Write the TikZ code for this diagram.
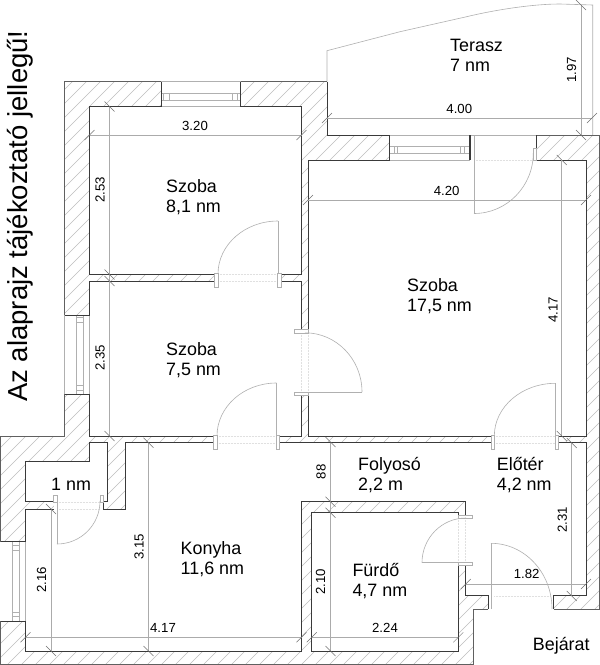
\documentclass[tikz,border=0pt]{standalone}
\usepackage{fontspec}
\setmainfont{Liberation Sans}
\usetikzlibrary{calc}
\definecolor{wallc}{HTML}{3A3A3A}
\definecolor{outc}{HTML}{606060}
\definecolor{hatchc}{HTML}{BEBEBE}
\definecolor{dimc}{HTML}{ABABAB}
\definecolor{thinc}{HTML}{B0B0B0}
\definecolor{tickc}{HTML}{707070}
\tikzset{
  wall/.style={draw=wallc,line width=0.95pt,line join=miter},
  outer/.style={draw=outc,line width=0.75pt},
  hatchline/.style={draw=hatchc,line width=0.45pt},
  dimline/.style={draw=dimc,line width=0.55pt},
  ticka/.style={draw=tickc,line width=0.5pt},
  doorline/.style={draw=thinc,line width=0.6pt},
  winline/.style={draw=thinc,line width=0.6pt},
  stub/.style={draw=thinc,line width=0.6pt,fill=white},
  dotline/.style={draw=black!12,line width=0.5pt,densely dotted},
  room/.style={fill=white,draw=none},
  lab/.style={anchor=base west,inner sep=0pt,align=left,font=\fontsize{17.9}{20}\selectfont},
  dimlab/.style={inner sep=0pt,font=\fontsize{13.2}{14}\selectfont},
}
\newcommand{\doorarc}[3]{\draw[doorline] (#1) .. controls ($(#1)!0.552!(#2)$) and ($(#3)!0.552!(#2)$) .. (#3);}
\newcommand{\tickup}[2]{\draw[ticka] (#1-5,#2+5) -- (#1+5,#2-5);}
\newcommand{\tickdn}[2]{\draw[ticka] (#1-5,#2-5) -- (#1+5,#2+5);}
\begin{document}
\begin{tikzpicture}[x=1pt,y=-1pt]
\useasboundingbox (0,0) rectangle (600,665);
\fill[white] (0,0) rectangle (600,665);

% hatching of the walls
\begin{scope}
\clip (64.5,81.5) -- (327,81.5) -- (327,135) -- (599,135) -- (599,609) -- (473,609) -- (473,664.5) -- (0.5,664.5) -- (0.5,436.5) -- (64.5,436.5) -- cycle;
\foreach \k in {0,14,...,1300} {\draw[hatchline] (\k,0) -- (\k-700,700);}
\end{scope}

% rooms
\fill[room] (89.5,106.5) rectangle (301.5,274);
\fill[room] (89.5,281) rectangle (301.5,436);
\fill[room] (308,160) rectangle (586,436);
\fill[room] (25.5,461.7) -- (89.5,461.7) -- (89.5,442.7) -- (107,442.7) -- (107,501.7) -- (25.5,501.7) -- cycle;
\fill[room] (125,442.7) -- (586,442.7) -- (586,595.7) -- (553.6,595.7) -- (553.6,609) -- (488.3,609) -- (488.3,595.7) -- (465.7,595.7) -- (465.7,501.7) -- (301.5,501.7) -- (301.5,651) -- (25.5,651) -- (25.5,509) -- (125,509) -- cycle;
\fill[room] (311.7,512.7) rectangle (458.3,651);
% openings
\fill[room] (214.5,273) rectangle (281,282);
\fill[room] (213,435) rectangle (279,444);
\fill[room] (491,435) rectangle (558,444);
\fill[room] (300.5,333) rectangle (309,392);
\fill[room] (54,500.7) rectangle (103,510);
\fill[room] (457.3,518) rectangle (466.7,562);
\fill[room] (161,81) rectangle (240.5,107);
\fill[room] (389,134.5) rectangle (536.7,161);
\fill[room] (64,315) rectangle (90,394);
\fill[room] (0,541.7) rectangle (26,621);
\fill[room] (488.3,595) rectangle (553.6,610);

% terrace
\draw[doorline] (327,81.5) -- (327,50.7) -- (400,31.7) -- (466.7,16.7) .. controls (490,11) and (530,4) .. (560,4) -- (592.7,5) -- (592.7,135);

% windows
\draw[winline] (161,81.5) -- (240.5,81.5) (161,93) -- (240.5,93) (161,100.7) -- (240.5,100.7) (161,106.5) -- (240.5,106.5)
  (163,93) -- (163,100.7) (169,93) -- (169,100.7) (232.7,93) -- (232.7,100.7) (237,93) -- (237,100.7);
\draw[winline] (389,135) -- (536.7,135) (389,146.5) -- (470,146.5) (389,153.5) -- (470,153.5) (389,160) -- (470,160)
  (394,146.5) -- (394,153.5) (397,146.5) -- (397,153.5) (460,146.5) -- (460,153.5) (464,146.5) -- (464,153.5);
\draw[winline] (64.5,315) -- (64.5,394) (76,315) -- (76,394) (83.3,315) -- (83.3,394) (89.5,315) -- (89.5,394)
  (76,317) -- (83.3,317) (76,322) -- (83.3,322) (76,385) -- (83.3,385) (76,390) -- (83.3,390);
\draw[winline] (12,541.7) -- (12,621) (19,541.7) -- (19,621) (25.5,541.7) -- (25.5,621)
  (12,545) -- (19,545) (12,550) -- (19,550) (12,612) -- (19,612) (12,616) -- (19,616);
\draw[wall,line width=1.5pt] (470,135) -- (470,160);

% dotted lines across the door openings
\draw[dotline] (218,274) -- (278,274) (218,281) -- (278,281)
  (217,436) -- (277,436) (217,443) -- (277,443)
  (494,436) -- (555,436) (494,443) -- (555,443)
  (301.5,333) -- (301.5,392) (308,333) -- (308,392)
  (57,502) -- (100,502) (57,509) -- (100,509)
  (458.3,518) -- (458.3,562) (465.7,518) -- (465.7,562)
  (494,596) -- (551,596) (474,160) -- (533,160);

% outer outline
\draw[outer] (161,81.5) -- (64.5,81.5) -- (64.5,315) (240.5,81.5) -- (327,81.5);
\draw[outer] (64.5,394) -- (64.5,436.5) -- (0.5,436.5) -- (0.5,541.7);
\draw[outer] (0.5,621) -- (0.5,664.5) -- (473,664.5) -- (473,609) -- (488.3,609);
\draw[outer] (553.6,609) -- (599,609) -- (599,135) -- (536.7,135);

% inner walls
\draw[wall] (214.5,274) -- (89.5,274) -- (89.5,106.5) -- (161,106.5) -- (161,81.5);
\draw[wall] (240.5,81.5) -- (240.5,106.5) -- (301.5,106.5) -- (301.5,274) -- (281,274) -- (281,281) -- (301.5,281) -- (301.5,330);
\draw[wall] (214.5,274) -- (214.5,281) -- (89.5,281) -- (89.5,315) -- (64.5,315);
\draw[wall] (64.5,394) -- (89.5,394) -- (89.5,436) -- (213,436) -- (213,442.7) -- (125,442.7) -- (125,509) -- (103,509) -- (103,501.7) -- (107,501.7) -- (107,442.7) -- (89.5,442.7) -- (89.5,461.7) -- (25.5,461.7) -- (25.5,501.7) -- (54,501.7);
\draw[wall] (54,509) -- (25.5,509) -- (25.5,541.7) -- (0.5,541.7);
\draw[wall] (0.5,621) -- (25.5,621) -- (25.5,651) -- (301.5,651) -- (301.5,501.7) -- (465.7,501.7) -- (465.7,516);
\draw[wall] (458.3,516) -- (458.3,512.7) -- (311.7,512.7) -- (311.7,651) -- (458.3,651) -- (458.3,565) -- (465.7,565) -- (465.7,595.7) -- (488.3,595.7) -- (488.3,609);
\draw[wall] (301.5,396) -- (301.5,436) -- (279,436) -- (279,442.7) -- (491,442.7) -- (491,436) -- (308,436) -- (308,396);
\draw[wall] (308,330) -- (308,160) -- (389,160) -- (389,135) -- (327,135) -- (327,81.5);
\draw[wall] (536.7,135) -- (536.7,160) -- (586,160) -- (586,436) -- (558,436) -- (558,442.7) -- (586,442.7) -- (586,595.7) -- (553.6,595.7) -- (553.6,609);

% door frames
\draw[stub] (214.5,273) rectangle (218.3,287);
\draw[stub] (277.3,273) rectangle (281,287);
\draw[stub] (213.3,435.5) rectangle (217,449);
\draw[stub] (276,435.5) rectangle (279.3,449);
\draw[stub] (491,435.5) rectangle (494.5,449.5);
\draw[stub] (555,435.5) rectangle (558,449.5);
\draw[stub] (294.5,329.5) rectangle (308.5,332.8);
\draw[stub] (294.5,392) rectangle (308.5,395.5);
\draw[stub] (53.5,495) rectangle (57,502.7);
\draw[stub] (100,495) rectangle (103.3,502.7);
\draw[stub] (458.3,515) rectangle (472.7,518);
\draw[stub] (458.3,562) rectangle (472.7,565);
\draw[stub] (533.3,148) rectangle (536.7,160);

% door leaves
\draw[doorline] (278,274) -- (278,221);
\doorarc{278,221}{218,221}{218,274}
\draw[doorline] (276.5,436) -- (276.5,383);
\doorarc{276.5,383}{217,383}{217,436}
\draw[doorline] (555.5,436) -- (555.5,383.3);
\doorarc{555.5,383.3}{494.3,383.3}{494.3,436}
\draw[doorline] (294.5,392) -- (362,392);
\doorarc{362,392}{362,332.8}{305,332.8}
\draw[doorline] (57,502) -- (57,544);
\doorarc{57,544}{100,544}{100,501}
\draw[doorline] (422,562.7) -- (472.7,562.7);
\doorarc{422,562.7}{422,518}{466,518}
\draw[doorline] (491,609) -- (491,543.3);
\doorarc{491,543.3}{552,543.3}{552,609}
\draw[doorline] (474,135) -- (474,213.5);
\doorarc{474,213.5}{533.3,213.5}{533.3,153}

% dimension lines
\draw[dimline] (89.5,135) -- (301.5,135);
\draw[dimline] (109.5,106.5) -- (109.5,281) (109.5,281) -- (109.5,436);
\draw[dimline] (308,200) -- (586,200);
\draw[dimline] (561.7,160) -- (561.7,436);
\draw[dimline] (571.7,443) -- (571.7,596);
\draw[dimline] (327,118) -- (592,118);
\draw[dimline] (581,5) -- (581,135);
\draw[dimline] (330.5,443) -- (330.5,651);
\draw[dimline] (311.7,637.3) -- (458.3,637.3);
\draw[dimline] (465.7,584) -- (586,584);
\draw[dimline] (25.5,637.3) -- (301.5,637.3);
\draw[dimline] (148.5,442.7) -- (148.5,651);
\draw[dimline] (51,509) -- (51,651);

\tickup{89.5}{135}\tickup{301.5}{135}
\tickdn{109.5}{106.5}\tickdn{109.5}{274.5}\tickdn{109.5}{281}\tickdn{109.5}{436}
\tickup{308}{200}\tickup{586}{200}
\tickdn{561.7}{160}\tickdn{561.7}{436}
\tickdn{571.7}{443}\tickdn{571.7}{596}
\tickup{327}{118}\tickup{592}{118}
\tickdn{581}{5}\tickdn{581}{135}
\tickdn{330.5}{442}\tickdn{330.5}{501.7}\tickdn{330.5}{512.7}\tickdn{330.5}{651}
\tickup{311.7}{637.3}\tickup{458.3}{637.3}
\tickup{465.7}{584}\tickup{586}{584}
\tickup{25.5}{637.3}\tickup{301.5}{637.3}
\tickdn{148.5}{442.7}\tickdn{148.5}{651}
\tickdn{51}{509}\tickdn{51}{651}

% dimension labels
\node[dimlab] (d320) at (195,125.5) {3.20};
\node[dimlab,rotate=90] (d253) at (100,190) {2.53};
\node[dimlab,rotate=90] (d235) at (100,358) {2.35};
\node[dimlab] (d420) at (446.7,190.5) {4.20};
\node[dimlab,rotate=90] (d417a) at (553,310) {4.17};
\node[dimlab] (d400) at (459.3,108.7) {4.00};
\node[dimlab,rotate=90] (d197) at (571.7,70) {1.97};
\node[dimlab,rotate=90] (d88) at (321,471.7) {88};
\node[dimlab,rotate=90] (d210) at (320.7,581.7) {2.10};
\node[dimlab] (d224) at (385,628.3) {2.24};
\node[dimlab] (d182) at (526.7,574.3) {1.82};
\node[dimlab,rotate=90] (d231) at (562.3,520) {2.31};
\node[dimlab] (d417b) at (163,628.3) {4.17};
\node[dimlab,rotate=90] (d315) at (139,546.7) {3.15};
\node[dimlab,rotate=90] (d216) at (41.5,580) {2.16};

% room labels
\node[lab] (r1) at (166,212.3) {Szoba\\8,1 nm};
\node[lab] (r2) at (166,375.3) {Szoba\\7,5 nm};
\node[lab] (r3) at (407,311) {Szoba\\17,5 nm};
\node[lab] (r4) at (450,71.7) {Terasz\\7 nm};
\node[lab] (r5) at (358,490) {Folyosó\\2,2 m};
\node[lab] (r6) at (496.7,490) {Előtér\\4,2 nm};
\node[lab] (r7) at (352.3,596) {Fürdő\\4,7 nm};
\node[lab] (r8) at (180.5,574) {Konyha\\11,6 nm};
\node[lab] (r9) at (51,490) {1 nm};
\node[lab] (r10) at (532.7,650) {Bejárat};
\node[anchor=base west,inner sep=0pt,rotate=90,font=\fontsize{27.5}{30}\selectfont] (title) at (27.3,402) {Az alaprajz tájékoztató jellegű!};
\end{tikzpicture}
\end{document}
